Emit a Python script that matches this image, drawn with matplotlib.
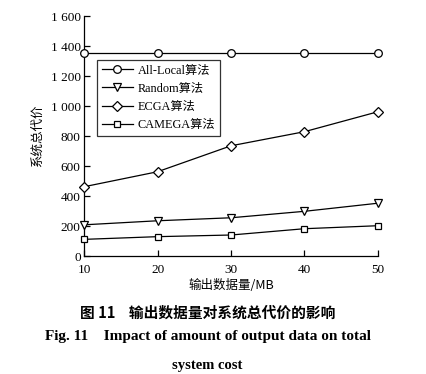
import matplotlib
matplotlib.use("Agg")
import matplotlib.pyplot as plt

plt.rcParams['font.family'] = ['Liberation Serif', 'Noto Sans CJK SC', 'DejaVu Sans']

x = [10, 20, 30, 40, 50]
all_local = [1352, 1352, 1352, 1352, 1352]
random_alg = [208, 235, 255, 298, 352]
ecga = [462, 562, 735, 829, 962]
camega = [111, 129, 140, 182, 202]

labels = ['All-Local算法', 'Random算法', 'ECGA算法', 'CAMEGA算法']
markers = ['o', 'v', 'D', 's']
msizes = [5.5, 6, 4.8, 5]

yticks = [0, 200, 400, 600, 800, 1000, 1200, 1400, 1600]
ytick_labels = ['0', '200', '400', '600', '800', '1 000', '1 200', '1 400', '1 600']

fig = plt.figure(figsize=(4.27, 3.74), dpi=100)
ax = fig.add_axes([0.197, 0.3155, 0.688, 0.6415])

for ys, lab, m, ms in zip([all_local, random_alg, ecga, camega], labels, markers, msizes):
    ax.plot(x, ys, color='black', lw=0.9, marker=m, markersize=ms,
            markerfacecolor='white', markeredgecolor='black', markeredgewidth=0.9,
            label=lab, clip_on=False, zorder=3)

ax.set_xlim(10, 50)
ax.set_ylim(0, 1600)
ax.set_xticks(x)
ax.set_yticks(yticks)
ax.set_yticklabels(ytick_labels)
for s in ['top', 'right']:
    ax.spines[s].set_visible(False)
for s in ['left', 'bottom']:
    ax.spines[s].set_linewidth(0.9)
ax.tick_params(direction='in', length=4, width=0.9, labelsize=9.5)
ax.tick_params(axis='y', pad=2.5)
ax.tick_params(axis='x', pad=6)

ax.set_ylabel('系统总代价', fontsize=9, family=['Noto Sans CJK SC'], labelpad=5)
ax.set_xlabel('输出数据量/MB', fontsize=9, family=['Noto Sans CJK SC', 'Liberation Serif'], labelpad=2)

leg = ax.legend(loc='upper left', bbox_to_anchor=(0.045, 0.817), fontsize=8.8,
                frameon=True, fancybox=False, edgecolor='black', handlelength=2.5,
                borderpad=0.38, labelspacing=0.5, handletextpad=0.4, borderaxespad=0)
leg.get_frame().set_linewidth(0.9)
for t in leg.get_texts():
    t.set_family(['Liberation Serif', 'Noto Sans CJK SC'])

fig.text(0.486, 0.163, '图 11    输出数据量对系统总代价的影响', ha='center', va='center',
         fontsize=10.6, fontweight='bold', family=['Noto Sans CJK SC', 'Liberation Serif'])
fig.text(0.486, 0.099, 'Fig. 11    Impact of amount of output data on total', ha='center', va='center',
         fontsize=11, fontweight='bold', family=['Liberation Serif'])
fig.text(0.485, 0.024, 'system cost', ha='center', va='center',
         fontsize=10.5, fontweight='bold', family=['Liberation Serif'])

fig.savefig('out.png', dpi=100)
